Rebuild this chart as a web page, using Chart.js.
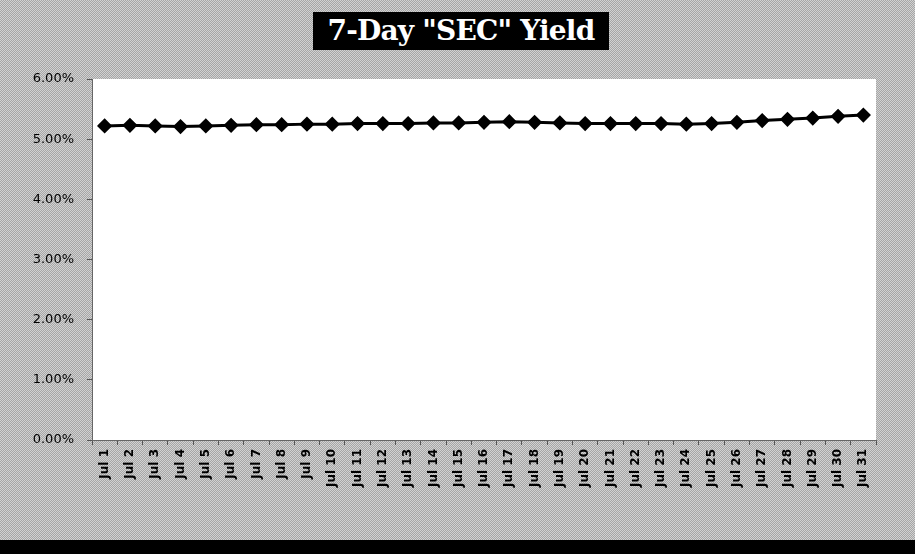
<!DOCTYPE html>
<html>
<head>
<meta charset="utf-8">
<script src="https://cdn.jsdelivr.net/npm/chart.js@4"></script>
<style>
    html, body { margin: 0; padding: 0; }
    body {
        width: 915px; height: 554px; overflow: hidden; position: relative;
        background-color: #bdbdbd;
        background-image: repeating-conic-gradient(#a6a6a6 0 25%, #d2d2d2 0 50%);
        background-size: 2px 2px;
    }
    #wrap { position: absolute; left: 0; top: 0; width: 915px; height: 540px; }
    #title {
        position: absolute; left: 313px; top: 12px; width: 296px; height: 38px;
        background: #000; color: #fff; text-align: center;
        font: bold 28px "DejaVu Serif", "Liberation Serif", serif; line-height: 38px;
        letter-spacing: -0.8px;
    }
    #bottom { position: absolute; left: 0; top: 540px; width: 915px; height: 14px; background: #000; }
</style>
</head>
<body>
<div id="wrap"><canvas id="yield-chart"></canvas></div>
<div id="title">7-Day "SEC" Yield</div>
<div id="bottom"></div>
<script>
// Données
const days = ['Jul 1', 'Jul 2', 'Jul 3', 'Jul 4', 'Jul 5', 'Jul 6', 'Jul 7', 'Jul 8', 'Jul 9', 'Jul 10',
    'Jul 11', 'Jul 12', 'Jul 13', 'Jul 14', 'Jul 15', 'Jul 16', 'Jul 17', 'Jul 18', 'Jul 19', 'Jul 20',
    'Jul 21', 'Jul 22', 'Jul 23', 'Jul 24', 'Jul 25', 'Jul 26', 'Jul 27', 'Jul 28', 'Jul 29', 'Jul 30', 'Jul 31'];
const yields = [5.22, 5.23, 5.22, 5.21, 5.22, 5.23, 5.24, 5.24, 5.25, 5.25,
    5.26, 5.26, 5.26, 5.27, 5.27, 5.28, 5.29, 5.28, 5.27, 5.26,
    5.26, 5.26, 5.26, 5.25, 5.26, 5.28, 5.31, 5.33, 5.35, 5.38, 5.40];

// Fond blanc pour la zone de tracé
const plotBackground = {
    id: 'plotBackground',
    beforeDraw(chart) {
        const { ctx, chartArea } = chart;
        ctx.save();
        ctx.fillStyle = '#ffffff';
        ctx.fillRect(chartArea.left, chartArea.top, chartArea.right - chartArea.left, chartArea.bottom - chartArea.top);
        ctx.restore();
    }
};

const ctx = document.getElementById('yield-chart');
new Chart(ctx, {
    type: 'line',
    data: {
        labels: days,
        datasets: [{
            data: yields,
            borderColor: '#000000',
            backgroundColor: '#000000',
            borderWidth: 3,
            pointStyle: 'rectRot',
            pointRadius: 5.5,
            pointBackgroundColor: '#000000',
            pointBorderColor: '#000000',
            tension: 0
        }]
    },
    options: {
        responsive: true,
        maintainAspectRatio: false,
        animation: false,
        layout: { padding: { top: 79, right: 39, left: 0, bottom: 0 } },
        plugins: {
            legend: { display: false },
            tooltip: { enabled: false }
        },
        scales: {
            x: {
                offset: true,
                grid: { offset: true, drawOnChartArea: false, drawTicks: true, tickLength: 5, color: '#555' },
                border: { color: '#666', dash: [2, 2] },
                ticks: {
                    minRotation: 90,
                    maxRotation: 90,
                    autoSkip: false,
                    padding: 4,
                    color: '#000',
                    font: { size: 12, weight: 'bold', family: '"DejaVu Sans", sans-serif' }
                },
                afterFit(scale) { scale.height = 100; }
            },
            y: {
                min: 0,
                max: 6,
                grid: { drawOnChartArea: false, drawTicks: true, tickLength: 5, color: '#555' },
                border: { color: '#666', dash: [2, 2] },
                ticks: {
                    stepSize: 1,
                    padding: 13,
                    color: '#000',
                    font: { size: 13, family: '"DejaVu Sans", sans-serif' },
                    callback: v => v.toFixed(2) + '%'
                },
                afterFit(scale) { scale.width = 92; }
            }
        }
    },
    plugins: [plotBackground]
});
</script>
</body>
</html>
